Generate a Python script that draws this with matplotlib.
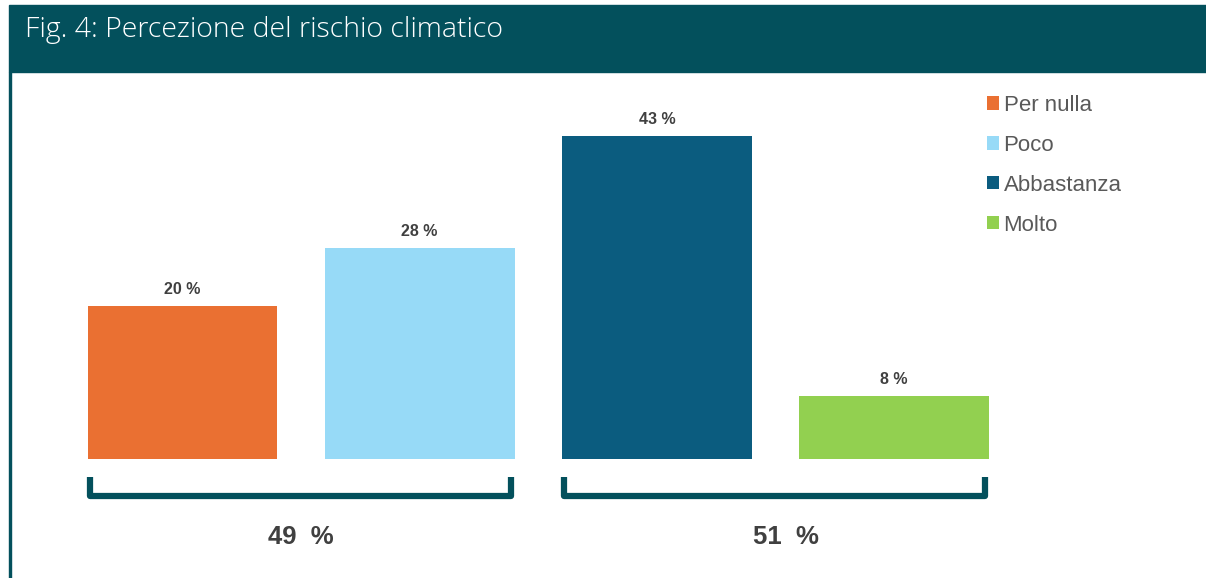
import matplotlib.pyplot as plt
from matplotlib.patches import Rectangle, Patch

# data
categories = ["Per nulla", "Poco", "Abbastanza", "Molto"]
values = [20.3, 28.0, 42.9, 8.4]
value_labels = ["20 %", "28 %", "43 %", "8 %"]
groups = [(0, 1), (2, 3)]
group_labels = ["49  %", "51  %"]
group_label_x = [0.5, 2.545]

colors = ["#EA7032", "#97DAF7", "#0B5C7F", "#92D050"]
teal = "#03505C"
W, H = 1206, 578

fig = plt.figure(figsize=(W / 100, H / 100), dpi=100)
fig.patch.set_facecolor("white")

# header band + left border
fig.patches.append(Rectangle((9 / W, (H - 72) / H), 1 - 9 / W, 67 / H,
                             transform=fig.transFigure, color=teal, zorder=0))
fig.patches.append(Rectangle((9 / W, 0), 2 / W, (H - 72) / H,
                             transform=fig.transFigure, color=teal, zorder=0))
fig.text(25 / W, (H - 37) / H, "Fig. 4: Percezione del rischio climatico",
         color="white", fontsize=20.5, family="Open Sans", fontweight="light",
         va="baseline", ha="left")

# bar axes: x centres 182.5..894 px, baseline at 459 px, 7.53 px per unit
ax = fig.add_axes([63.9 / W, 119 / H, 948.7 / W, 376.5 / H])
ax.set_xlim(-0.5, 3.5)
ax.set_ylim(0, 50)
ax.axis("off")

x = list(range(len(categories)))
bars = ax.bar(x, values, width=0.8, color=colors)
for xi, v, lab in zip(x, values, value_labels):
    ax.text(xi, v + 1.6, lab, ha="center", va="baseline", fontsize=11.5,
            fontweight="bold", color="#404040", family="Liberation Sans")

# group brackets and totals
for (a, b), lab, lx in zip(groups, group_labels, group_label_x):
    x0, x1 = a - 0.39, b + 0.385
    ax.plot([x0, x0, x1, x1], [-2.4, -4.9, -4.9, -2.4], color=teal, lw=4.5,
            solid_joinstyle="round", solid_capstyle="butt", clip_on=False)
    ax.text(lx, -10.4, lab, ha="center", va="center", fontsize=18.5,
            fontweight="bold", color="#404040", family="Liberation Sans")

handles = [Patch(facecolor=c, label=n) for c, n in zip(colors, categories)]
fig.legend(handles=handles, loc="upper left", bbox_to_anchor=(978 / W, (H - 86) / H),
           frameon=False, handlelength=0.55, handleheight=0.55,
           handletextpad=0.2, labelspacing=0.85, borderaxespad=0,
           prop={"family": "Liberation Sans", "size": 16}, labelcolor="#595959")

fig.savefig("out.png", dpi=100)
